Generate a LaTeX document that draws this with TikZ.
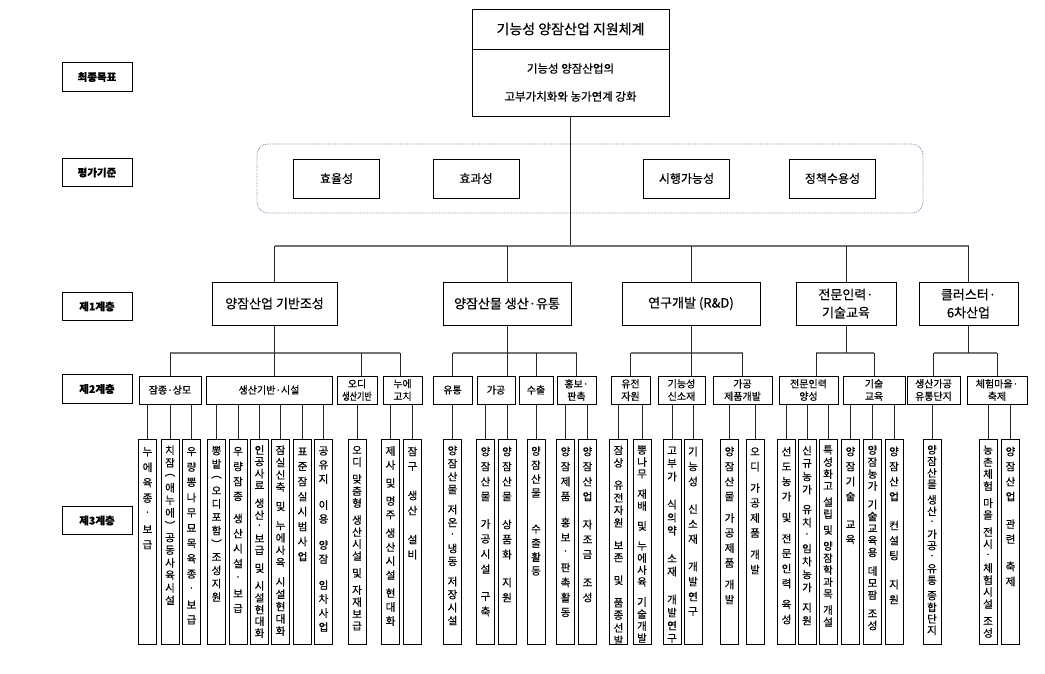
\documentclass[tikz,border=0pt]{standalone}
\usepackage{fontspec}
\usepackage{graphicx}
\setmainfont{Noto Sans CJK KR}[FakeBold=0.5]
\usetikzlibrary{calc}
\definecolor{critc}{RGB}{120,132,170}
\makeatletter
\def\vs@sp{~}
\newcommand\vt[3]{%
  \vbox to 199pt{\offinterlineskip\vskip1.5pt
    \@tfor\vs@c:=#3\do{%
      \ifx\vs@c\vs@sp\vskip#2pt\relax
      \else\vbox to #1pt{\vss\hbox to 13pt{\hss\vs@c\hss}\vss}\fi}%
    \vfill}}
\makeatother
\begin{document}
\begin{tikzpicture}[x=1pt,y=-1pt,
  box/.style={draw=black, line width=0.7pt, inner sep=1pt, align=center},
  lvl1/.style={box, minimum height=43pt, font=\fontsize{13}{18}\selectfont},
  lvl2/.style={box, minimum height=28pt, font=\fontsize{10}{12.5}\selectfont},
  lvl3/.style={box, minimum width=18pt, inner xsep=2pt, inner ysep=3pt, font=\fontsize{10.5}{12}\selectfont},
  side/.style={box, minimum width=70pt, minimum height=28.5pt, font=\fontsize{10.5}{12}\selectfont\bfseries},
  evalbox/.style={box, minimum width=86pt, minimum height=39pt, font=\fontsize{12}{14}\selectfont},
  link/.style={draw=black!85, line width=0.8pt},
  bus/.style={draw=black!55, line width=1.6pt}]
\useasboundingbox (0,0) rectangle (1045,674);

% side labels
\node[side] (s1) at (97,77) {최종목표};
\node[side] (s2) at (97,172.5) {평가기준};
\node[side] (s3) at (97,306.5) {제1계층};
\node[side] (s4) at (97,389) {제2계층};
\node[side] (s5) at (97,520.5) {제3계층};

% top
\node[box, minimum width=197pt, minimum height=40pt, font=\fontsize{14}{16}\selectfont] (title) at (570.5,29) {기능성 양잠산업 지원체계};
\node[box, minimum width=197pt, minimum height=67pt, font=\fontsize{11.5}{28}\selectfont] (goal) at (570.5,82.5) {기능성 양잠산업의\\고부가치화와 농가연계 강화};

% criteria
\node[draw=critc, densely dotted, line width=0.8pt, rounded corners=11pt, minimum width=666pt, minimum height=69pt] (crit) at (590,178.5) {};
\node[evalbox] (e1) at (336.5,178.5) {효율성};
\node[evalbox] (e2) at (476,178.5) {효과성};
\node[evalbox] (e3) at (686.5,178.5) {시행가능성};
\node[evalbox] (e4) at (832.5,178.5) {정책수용성};

% level 1
\node[lvl1, minimum width=125pt] (q1) at (274.5,303.5) {양잠산업 기반조성};
\node[lvl1, minimum width=128pt] (q2) at (507,303.5) {양잠산물 생산·유통};
\node[lvl1, minimum width=138pt] (q3) at (691,303.5) {연구개발 (R\&D)};
\node[lvl1, minimum width=100pt] (q4) at (846,303.5) {전문인력·\\기술교육};
\node[lvl1, minimum width=99pt] (q5) at (968.5,303.5) {클러스터·\\6차산업};

\coordinate (b0) at (569,246);
\draw[link] (goal.south) -- (goal.south |- b0);
\draw[bus] (q1.north |- b0) -- (q5.north |- b0);
\foreach \q in {q1,q2,q3,q4,q5} \draw[link] (\q.north) -- (\q.north |- b0);

% level 2
\node[lvl2, minimum width=62pt] (p1) at (170,390) {잠종·상모};
\node[lvl2, minimum width=126pt] (p2) at (269,390) {생산기반·시설};
\node[lvl2, minimum width=40pt] (p3) at (357,390) {오디\\\scalebox{0.8}[1]{생산기반}};
\node[lvl2, minimum width=39pt] (p4) at (402.5,390) {누에\\고치};
\node[lvl2, minimum width=39pt] (p5) at (452.5,390) {유통};
\node[lvl2, minimum width=38pt] (p6) at (496,390) {가공};
\node[lvl2, minimum width=34pt] (p7) at (536,390) {수출};
\node[lvl2, minimum width=39pt] (p8) at (576.5,390) {홍보·\\판촉};
\node[lvl2, minimum width=39pt] (p9) at (630.5,390) {유전\\자원};
\node[lvl2, minimum width=47pt] (p10) at (681.5,390) {기능성\\신소재};
\node[lvl2, minimum width=59pt] (p11) at (742.5,390) {가공\\제품개발};
\node[lvl2, minimum width=59pt] (p12) at (808.5,390) {전문인력\\양성};
\node[lvl2, minimum width=62pt] (p13) at (874,390) {기술\\교육};
\node[lvl2, minimum width=53pt] (p14) at (933.5,390) {생산가공\\유통단지};
\node[lvl2, minimum width=60pt] (p15) at (997,390) {체험마을·\\축제};

\coordinate (b1) at (274.5,353);
\coordinate (b2) at (507,353);
\coordinate (b3) at (691,353);
\coordinate (b4) at (846,353);
\coordinate (b5) at (968.5,353);
% group 1
\draw[bus] (p1.north |- b1) -- ([xshift=-2.5pt]p4.north |- b1);
\draw[link] (q1.south) -- (q1.south |- p2.north);
\draw[link] (p1.north) -- (p1.north |- b1);
\draw[link] ([xshift=4pt]p3.north) -- ([xshift=4pt]p3.north |- b1);
\draw[link] ([xshift=-2.5pt]p4.north) -- ([xshift=-2.5pt]p4.north |- b1);
% group 2
\draw[bus] (p5.north |- b2) -- (p8.north |- b2);
\draw[link] (q2.south) -- (q2.south |- p6.north);
\foreach \p in {p5,p7,p8} \draw[link] (\p.north) -- (\p.north |- b2);
% group 3
\draw[bus] (p9.north |- b3) -- (p11.north |- b3);
\draw[link] (q3.south) -- (q3.south |- p10.north);
\foreach \p in {p9,p11} \draw[link] (\p.north) -- (\p.north |- b3);
% group 4
\draw[bus] ([xshift=7.5pt]p12.north |- b4) -- (p13.north |- b4);
\draw[link] (q4.south) -- (b4);
\draw[link] ([xshift=7.5pt]p12.north) -- ([xshift=7.5pt]p12.north |- b4);
\draw[link] (p13.north) -- (p13.north |- b4);
% group 5
\draw[bus] (p14.north |- b5) -- (p15.north |- b5);
\draw[link] (q5.south) -- (b5);
\foreach \p in {p14,p15} \draw[link] (\p.north) -- (\p.north |- b5);

% level 3
\node[lvl3] (c1) at (147.5,542) {\vt{15.5}{0}{누에육종·보급}};
\node[lvl3] (c2) at (170,542) {\vt{12.5}{0}{치잠︵애누에︶공동사육시설}};
\node[lvl3] (c3) at (191.5,542) {\vt{15.3}{0}{우량뽕나무묘목육종·보급}};
\node[lvl3] (c4) at (216.5,542) {\vt{13.3}{0}{뽕밭︵오디포함︶조성지원}};
\node[lvl3] (c5) at (238,542) {\vt{15}{7}{우량잠종~생산시설·보급}};
\node[lvl3] (c6) at (259.5,542) {\vt{11.8}{6}{인공사료~생산·보급~및~시설현대화}};
\node[lvl3] (c7) at (280.5,542) {\vt{12.3}{7}{잠실신축~및~누에사육~시설현대화}};
\node[lvl3] (c8) at (302.5,542) {\vt{15}{0}{표준잠실시범사업}};
\node[lvl3] (c9) at (323.5,542) {\vt{14}{12}{공유지~이용~양잠~임차사업}};
\node[lvl3] (c10) at (357,542) {\vt{12}{5}{오디~맞춤형~생산시설~및~자재보급}};
\node[lvl3] (c11) at (390.5,542) {\vt{14}{4}{제사~및~명주~생산시설~현대화}};
\node[lvl3] (c12) at (412.5,542) {\vt{15}{14}{잠구~생산~설비}};
\node[lvl3] (c13) at (452.5,542) {\vt{13}{7}{양잠산물~저온·냉동~저장시설}};
\node[lvl3] (c14) at (485.5,542) {\vt{15}{12.5}{양잠산물~가공시설~구축}};
\node[lvl3] (c15) at (507,542) {\vt{15}{13}{양잠산물~상품화~지원}};
\node[lvl3] (c16) at (536,542) {\vt{14}{22}{양잠산물~수출활동}};
\node[lvl3] (c17) at (565.5,542) {\vt{15}{11}{양잠제품~홍보·판촉활동}};
\node[lvl3] (c18) at (587.5,542) {\vt{15}{13}{양잠산업~자조금~조성}};
\node[lvl3] (c19) at (618.5,542) {\vt{12.5}{10}{잠상~유전자원~보존~및~품종선발}};
\node[lvl3] (c20) at (642,542) {\vt{12}{8}{뽕나무~재배~및~누에사육~기술개발}};
\node[lvl3] (c21) at (672,542) {\vt{13}{15}{고부가~식의약~소재~개발연구}};
\node[lvl3] (c22) at (693,542) {\vt{15}{12.5}{기능성~신소재~개발연구}};
\node[lvl3] (c23) at (729.5,542) {\vt{15}{6.5}{양잠산물~가공제품~개발}};
\node[lvl3] (c24) at (755,542) {\vt{15}{6.5}{오디~가공제품~개발}};
\node[lvl3] (c25) at (786.5,542) {\vt{15}{6}{선도농가~및~전문인력~육성}};
\node[lvl3] (c26) at (807,542) {\vt{13}{7}{신규농가~유치·임차농가~지원}};
\node[lvl3] (c27) at (828,542) {\vt{12}{4}{특성화고~설립~및~양잠학과목~개설}};
\node[lvl3] (c28) at (850.5,542) {\vt{15}{13}{양잠기술~교육}};
\node[lvl3] (c29) at (872.5,542) {\vt{12}{6.5}{양잠농가~기술교육용~데모팜~조성}};
\node[lvl3] (c30) at (894,542) {\vt{15}{14}{양잠산업~컨설팅~지원}};
\node[lvl3] (c31) at (932,542) {\vt{11.5}{4}{양잠산물~생산·가공·유통~종합단지}};
\node[lvl3] (c32) at (988,542) {\vt{12}{5}{농촌체험~마을~전시·체험시설~조성}};
\node[lvl3] (c33) at (1010.5,542) {\vt{15}{12.5}{양잠산업~관련~축제}};

\foreach \c/\p in {c1/p1,c2/p1,c3/p1,c4/p2,c5/p2,c6/p2,c7/p2,c8/p2,c9/p2,c10/p3,c11/p4,c12/p4,
  c13/p5,c14/p6,c15/p6,c16/p7,c17/p8,c18/p8,c19/p9,c20/p9,c21/p10,c22/p10,c23/p11,c24/p11,
  c25/p12,c26/p12,c27/p12,c28/p13,c29/p13,c30/p13,c31/p14,c32/p15,c33/p15}
  \draw[link] (\c.north) -- (\c.north |- \p.south);
\end{tikzpicture}
\end{document}
